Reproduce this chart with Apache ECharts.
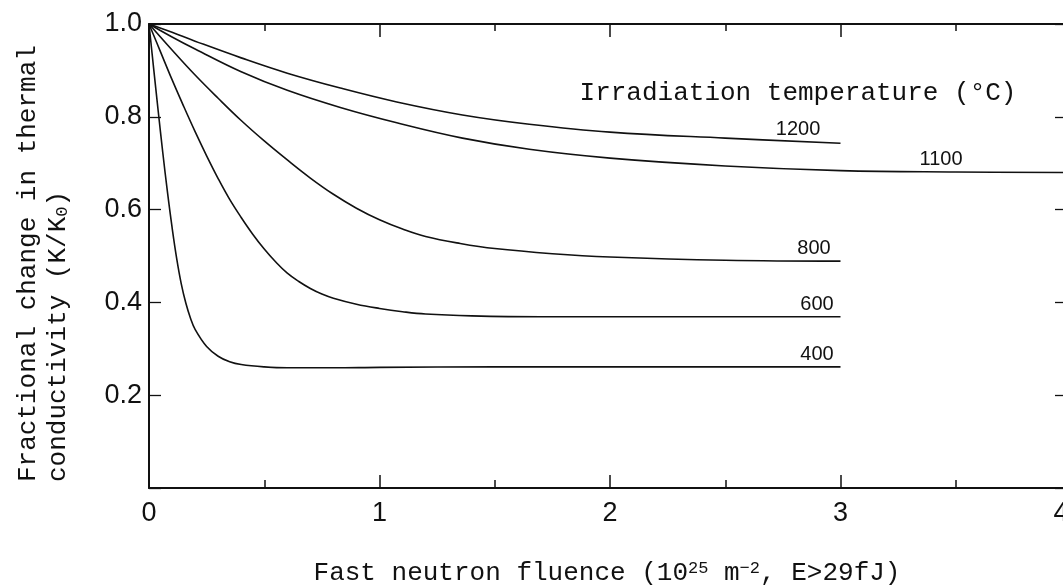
<!DOCTYPE html>
<html>
<head>
<meta charset="utf-8">
<script src="https://cdn.jsdelivr.net/npm/echarts@6/dist/echarts.min.js"></script>
<style>
  html, body { margin: 0; padding: 0; background: #fff; }
  #chart { width: 1063px; height: 586px; }
</style>
</head>
<body>
<div id="chart"></div>
<script>
// Fractional change in thermal conductivity vs fast neutron fluence,
// one curve per irradiation temperature (°C).
const temperatures = ['400', '600', '800', '1100', '1200'];

const fluence400 = [0, 0.02, 0.04, 0.06, 0.08, 0.1, 0.12, 0.14, 0.16, 0.18, 0.2, 0.25, 0.3, 0.35, 0.4, 0.5, 0.6, 0.8, 1.0, 1.5, 2.0, 2.5, 3.0];
const ratio400   = [1.0, 0.905, 0.812, 0.722, 0.638, 0.562, 0.495, 0.44, 0.398, 0.366, 0.342, 0.305, 0.284, 0.272, 0.266, 0.261, 0.259, 0.259, 0.26, 0.261, 0.261, 0.261, 0.261];

const fluence600 = [0, 0.05, 0.1, 0.15, 0.2, 0.25, 0.3, 0.35, 0.4, 0.45, 0.5, 0.55, 0.6, 0.65, 0.7, 0.75, 0.8, 0.9, 1.0, 1.1, 1.2, 1.4, 1.7, 2.0, 2.5, 3.0];
const ratio600   = [1.0, 0.94, 0.88, 0.823, 0.768, 0.716, 0.667, 0.622, 0.583, 0.547, 0.515, 0.487, 0.463, 0.445, 0.43, 0.418, 0.409, 0.396, 0.387, 0.38, 0.375, 0.371, 0.369, 0.369, 0.369, 0.369];

const fluence800 = [0, 0.1, 0.2, 0.3, 0.4, 0.5, 0.6, 0.7, 0.8, 0.9, 1.0, 1.1, 1.2, 1.35, 1.5, 1.75, 2.0, 2.5, 3.0];
const ratio800   = [1.0, 0.944, 0.89, 0.84, 0.792, 0.748, 0.707, 0.668, 0.633, 0.603, 0.578, 0.558, 0.542, 0.527, 0.516, 0.505, 0.498, 0.491, 0.489];

const fluence1100 = [0, 0.1, 0.2, 0.4, 0.6, 0.83, 1.075, 1.36, 1.65, 2.0, 2.5, 3.0, 3.5, 4.0];
const ratio1100   = [1.0, 0.972, 0.946, 0.897, 0.857, 0.82, 0.787, 0.754, 0.73, 0.711, 0.694, 0.684, 0.681, 0.680];

const fluence1200 = [0, 0.1, 0.2, 0.4, 0.6, 0.83, 1.075, 1.36, 1.65, 2.0, 2.5, 3.0];
const ratio1200   = [1.0, 0.982, 0.963, 0.927, 0.894, 0.862, 0.832, 0.804, 0.784, 0.767, 0.754, 0.743];

const xTickLabels = ['0', '1', '2', '3', '4'];
const yTickLabels = ['0.2', '0.4', '0.6', '0.8', '1.0'];

const curves = [
  { name: temperatures[0], x: fluence400,  y: ratio400,  labelAt: 2.898 },
  { name: temperatures[1], x: fluence600,  y: ratio600,  labelAt: 2.898 },
  { name: temperatures[2], x: fluence800,  y: ratio800,  labelAt: 2.885 },
  { name: temperatures[3], x: fluence1100, y: ratio1100, labelAt: 3.436 },
  { name: temperatures[4], x: fluence1200, y: ratio1200, labelAt: 2.816 }
];

function valueAt(xs, ys, x) {
  for (let i = 1; i < xs.length; i++) {
    if (x <= xs[i]) {
      const t = (x - xs[i - 1]) / (xs[i] - xs[i - 1]);
      return ys[i - 1] + t * (ys[i] - ys[i - 1]);
    }
  }
  return ys[ys.length - 1];
}

const INK = '#111';
const MONO = '"Liberation Mono", "DejaVu Sans Mono", monospace';
const SANS = '"Liberation Sans", Arial, sans-serif';

const series = curves.map(c => ({
  name: c.name,
  type: 'line',
  xAxisIndex: 0,
  yAxisIndex: 0,
  data: c.x.map((v, i) => [v, c.y[i]]),
  showSymbol: false,
  smooth: 0.4,
  lineStyle: { color: INK, width: 1.6 },
  silent: true,
  markPoint: {
    symbol: 'circle',
    symbolSize: 0,
    silent: true,
    data: [{
      coord: [c.labelAt, valueAt(c.x, c.y, c.labelAt)],
      label: {
        show: true,
        formatter: c.name,
        position: 'top',
        distance: 2,
        fontFamily: SANS,
        fontSize: 20,
        color: INK
      }
    }]
  }
}));

const axisLine = { show: true, onZero: false, lineStyle: { color: INK, width: 2 } };

const option = {
  animation: false,
  backgroundColor: '#fff',
  grid: { left: 149, top: 24, width: 922, height: 464, containLabel: false, outerBoundsMode: 'none' },
  xAxis: [
    {
      type: 'value', position: 'bottom', min: 0, max: 4, interval: 1,
      axisLine: axisLine,
      axisTick: { show: true, inside: true, length: 13, lineStyle: { color: INK, width: 1.5 } },
      minorTick: { show: true, splitNumber: 2, length: 8, lineStyle: { color: INK, width: 1.5 } },
      axisLabel: {
        margin: 12, fontFamily: SANS, fontSize: 27, color: INK,
        showMaxLabel: true,
        formatter: v => {
          const i = Math.round(v);
          // the last label sits on the clipped right edge; nudge it left a little
          return i === 4 ? '{edge|' + xTickLabels[i] + '}' : xTickLabels[i];
        },
        rich: {
          edge: { fontFamily: SANS, fontSize: 27, color: INK, padding: [0, 20, 0, 0] }
        }
      },
      splitLine: { show: false }
    },
    {
      type: 'value', position: 'top', min: 0, max: 4, interval: 1,
      axisLine: axisLine,
      axisTick: { show: true, inside: true, length: 13, lineStyle: { color: INK, width: 1.5 } },
      minorTick: { show: true, splitNumber: 2, length: 7, lineStyle: { color: INK, width: 1.5 } },
      axisLabel: { show: false },
      splitLine: { show: false }
    }
  ],
  yAxis: [
    {
      type: 'value', position: 'left', min: 0, max: 1, interval: 0.2,
      axisLine: axisLine,
      axisTick: { show: true, inside: true, length: 12, lineStyle: { color: INK, width: 1.3 } },
      axisLabel: {
        margin: 7, fontFamily: SANS, fontSize: 27, color: INK,
        formatter: v => {
          const i = Math.round(v / 0.2) - 1;
          return i >= 0 ? yTickLabels[i] : '';
        }
      },
      splitLine: { show: false }
    },
    {
      type: 'value', position: 'right', min: 0, max: 1, interval: 0.2,
      axisLine: axisLine,
      axisTick: { show: true, inside: true, length: 16, lineStyle: { color: INK, width: 1.3 } },
      axisLabel: { show: false },
      splitLine: { show: false }
    }
  ],
  series: series,
  graphic: [
    {
      type: 'text', x: 798, y: 93, silent: true,
      style: {
        text: 'Irradiation temperature (°C)',
        font: '26px ' + MONO, fill: INK,
        textAlign: 'center', textVerticalAlign: 'middle'
      }
    },
    {
      type: 'text', x: 607, y: 573, silent: true,
      style: {
        text: 'Fast neutron fluence (10{sup|25} m{sup|−2}, E>29fJ)',
        font: '26px ' + MONO, fill: INK,
        textAlign: 'center', textVerticalAlign: 'middle',
        rich: {
          sup: { fontSize: 17, fontFamily: MONO, lineHeight: 14, verticalAlign: 'top', fill: INK }
        }
      }
    },
    {
      type: 'text', x: 28, y: 482, rotation: Math.PI / 2, silent: true,
      style: {
        text: 'Fractional change in thermal',
        font: '26px ' + MONO, fill: INK,
        textAlign: 'left', textVerticalAlign: 'middle'
      }
    },
    {
      type: 'text', x: 58, y: 482, rotation: Math.PI / 2, silent: true,
      style: {
        text: 'conductivity (K/K{sub|0})',
        font: '26px ' + MONO, fill: INK,
        textAlign: 'left', textVerticalAlign: 'middle',
        rich: {
          sub: { fontSize: 17, fontFamily: MONO, lineHeight: 14, verticalAlign: 'bottom', fill: INK }
        }
      }
    }
  ]
};

const chart = echarts.init(document.getElementById('chart'), null, { renderer: 'canvas' });
chart.setOption(option);
</script>
</body>
</html>
